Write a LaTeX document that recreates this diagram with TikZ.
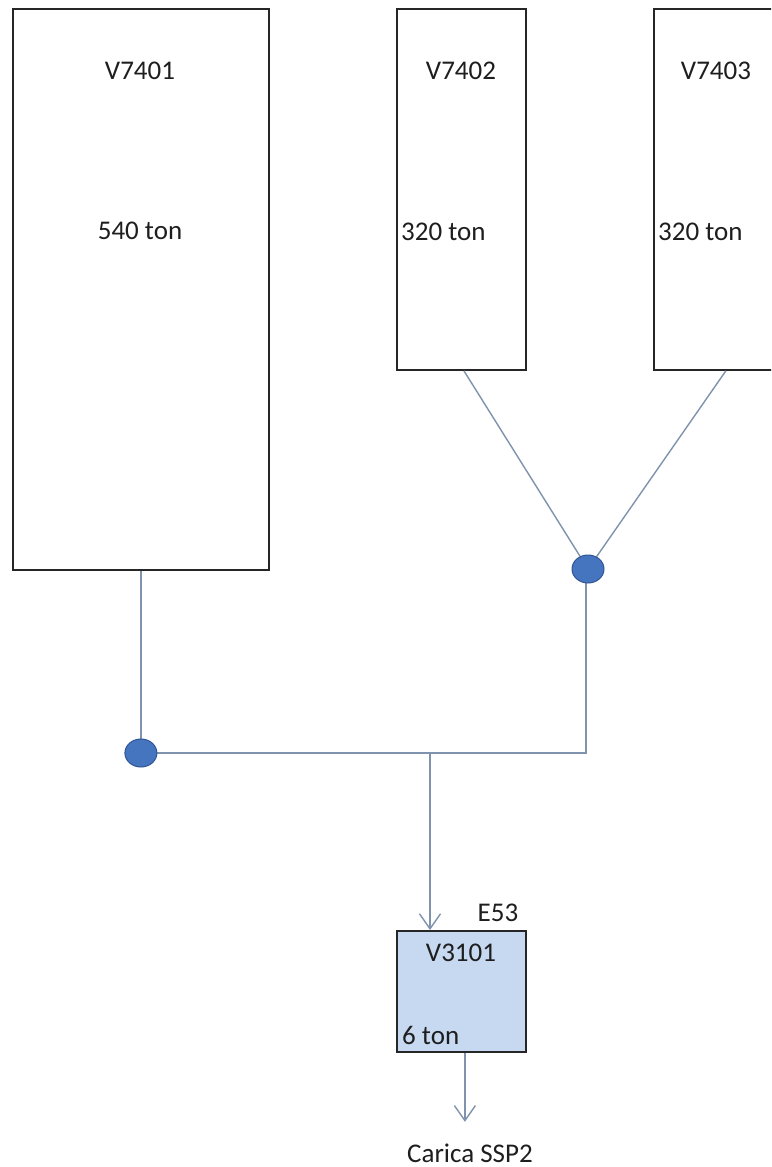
\documentclass[tikz,border=0pt]{standalone}
\usepackage{fontspec}
\setmainfont{Carlito}
\usetikzlibrary{arrows.meta,shapes.geometric,calc}
\definecolor{pipeclr}{HTML}{7F93AE}
\definecolor{edgeclr}{HTML}{262626}
\definecolor{tankfill}{HTML}{C6D9F1}
\definecolor{dotfill}{HTML}{4675C0}
\definecolor{dotedge}{HTML}{2F5594}
\definecolor{txt}{HTML}{1E1E1E}
\begin{document}
\begin{tikzpicture}[x=1pt,y=-1pt,
  tank/.style={draw=edgeclr,line width=1.8pt,fill=white,anchor=north west,inner sep=0pt},
  smalltank/.style={tank,fill=tankfill},
  pipe/.style={draw=pipeclr,line width=1.4pt},
  flow/.style={pipe,-{Straight Barb[length=15pt,width=21pt,line width=1.4pt]}},
  joint/.style={ellipse,draw=dotedge,fill=dotfill,line width=1pt,minimum width=32pt,minimum height=28pt,inner sep=0pt},
  lbl/.style={text=txt,inner sep=0pt,font=\fontsize{27}{32}\selectfont},
  lbll/.style={lbl,anchor=west}]
\useasboundingbox (0,0) rectangle (771,1167);
\clip (0,0) rectangle (771,1167);
\fill[white] (0,0) rectangle (771,1167);

% storage tanks
\node[tank,minimum width=256pt,minimum height=561pt] (v1) at (12,8) {};
\node[tank,minimum width=129pt,minimum height=361pt] (v2) at (396,8) {};
\node[tank,minimum width=130pt,minimum height=361pt] (v3) at (653,8) {};
% receiving vessel
\node[smalltank,minimum width=129pt,minimum height=121pt] (r) at (396,930) {};

% junctions
\coordinate (tap) at (430,753);
\coordinate (j1pos) at (v1.south |- tap);
\coordinate (j2pos) at (588,569);

% pipework
\draw[pipe] (v1.south) -- (j1pos);
\draw[pipe] ([xshift=2.5pt]v2.south) -- (j2pos);
\draw[pipe] ([xshift=7pt]v3.south) -- (j2pos);
\draw[pipe] ([xshift=-2pt]j2pos) |- (j1pos);
\draw[flow] (tap) -- (tap |- r.north);
\draw[flow] ([xshift=3.5pt]r.south) -- ++(0,69);

\node[joint] (j1) at (j1pos) {};
\node[joint] (j2) at (j2pos) {};

% labels
\node[lbl] (t1) at (140,71) {V7401};
\node[lbl] (c1) at (140,231) {540 ton};
\node[lbl] (t2) at (461,71) {V7402};
\node[lbll] (c2) at (401,232) {320 ton};
\node[lbl] (t3) at (716,71) {V7403};
\node[lbll] (c3) at (658,232) {320 ton};
\node[lbl] (e53) at (498,913) {E53};
\node[lbl] (t4) at (461,953) {V3101};
\node[lbll] (c4) at (402,1035) {6 ton};
\node[lbl] (out) at (470,1153) {Carica SSP2};
\end{tikzpicture}
\end{document}
